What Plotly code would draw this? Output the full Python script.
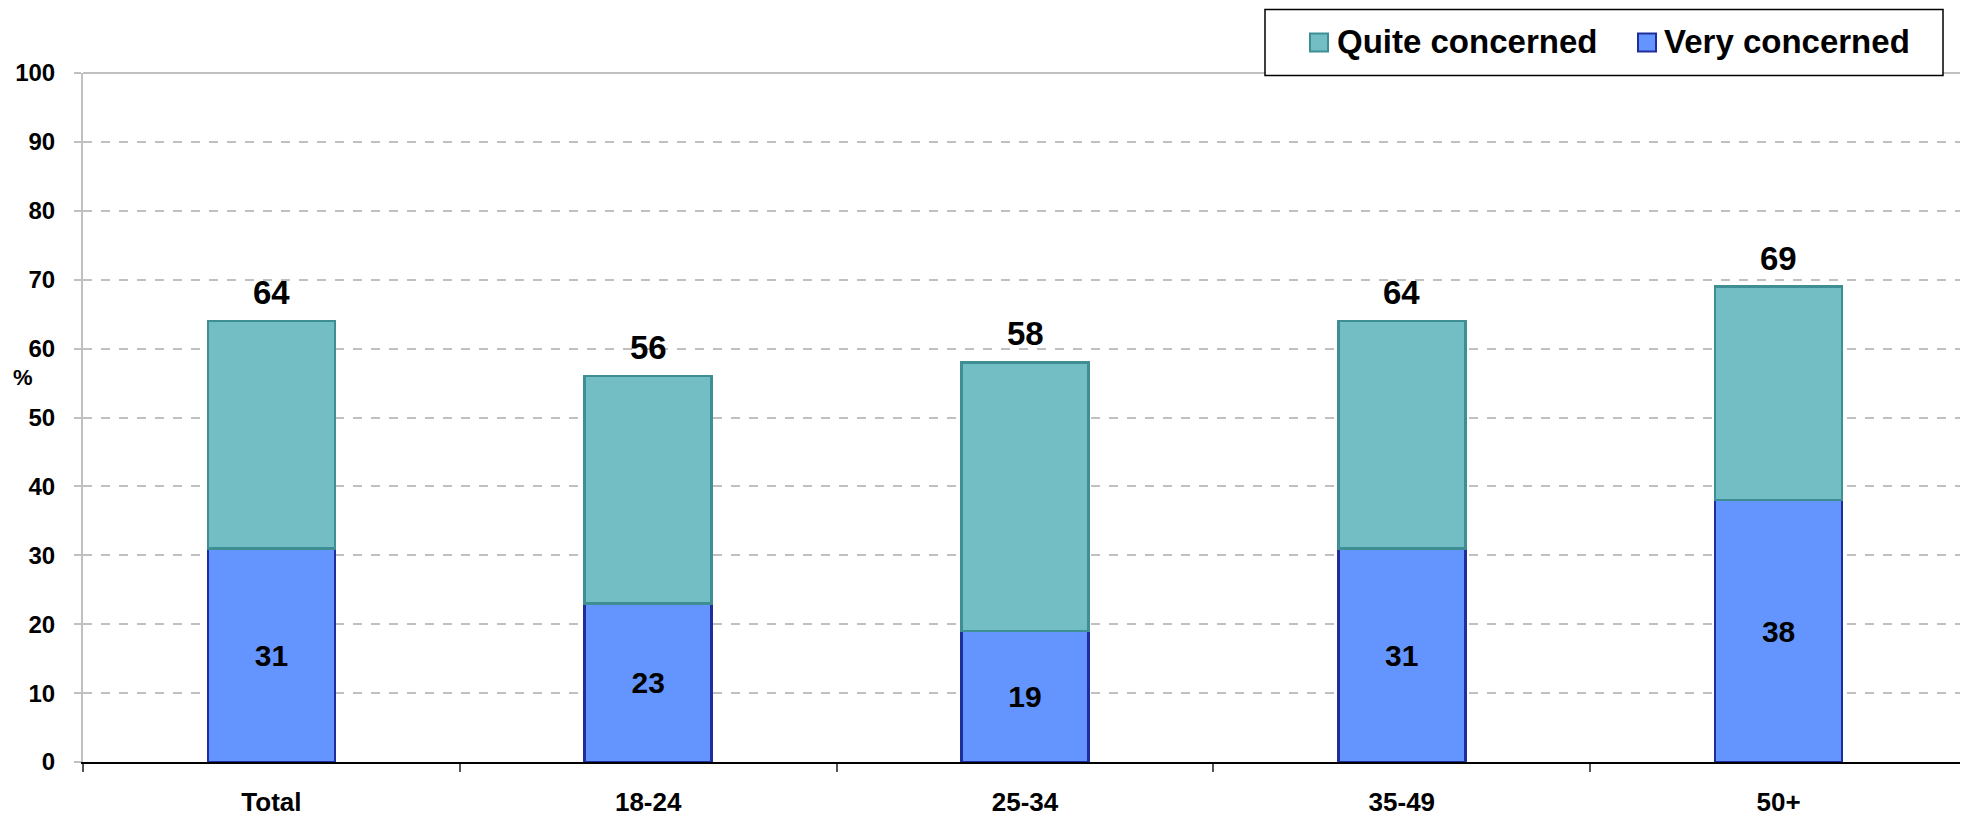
import plotly.graph_objects as go

categories = ["Total", "18-24", "25-34", "35-49", "50+"]
very_concerned = [31, 23, 19, 31, 38]
quite_concerned = [33, 33, 39, 33, 31]
totals = [64, 56, 58, 64, 69]
y_ticks = [0, 10, 20, 30, 40, 50, 60, 70, 80, 90, 100]

# the page body adds an 8px offset, so the figure is drawn 8px smaller
OFF = 8
W, H = 1968 - OFF, 816 - OFF
L, R, T, B = 83 - OFF, 1, 72.5 - OFF, 53.5
PW, PH = W - L - R, H - T - B


def px_x(px):  # page pixel -> paper
    return (px - OFF - L) / PW


def px_y(py):
    return (H - B - (py - OFF)) / PH


QUITE_FILL, QUITE_LINE = "#72BEC4", "#3E8F93"
VERY_FILL, VERY_LINE = "#6495FF", "#1F2E9B"
FONT = "Liberation Sans, Arial, sans-serif"

fig = go.Figure()
fig.add_trace(go.Bar(
    x=categories, y=very_concerned, name="Very concerned",
    marker=dict(color=VERY_FILL, line=dict(color=VERY_LINE, width=2.5)),
    text=[str(v) for v in very_concerned], textposition="inside",
    insidetextanchor="middle",
    textfont=dict(family=FONT, size=30, color="black", weight="bold"),
    showlegend=False,
))
fig.add_trace(go.Bar(
    x=categories, y=quite_concerned, name="Quite concerned",
    marker=dict(color=QUITE_FILL, line=dict(color=QUITE_LINE, width=2.5)),
    showlegend=False,
))

# total labels above the stacks
for c, t in zip(categories, totals):
    fig.add_annotation(x=c, y=t, text=f"<b>{t}</b>", showarrow=False,
                       yanchor="bottom", yshift=8,
                       font=dict(family=FONT, size=33, color="black"))

# "%" axis label
fig.add_annotation(xref="paper", yref="paper", x=px_x(23), y=px_y(377),
                   text="<b>%</b>", showarrow=False, xanchor="center",
                   yanchor="middle", font=dict(family=FONT, size=22, color="black"))

# top plot border
fig.add_shape(type="line", xref="paper", yref="paper", x0=0, x1=1, y0=1, y1=1,
              line=dict(color="#C0C0C0", width=2), layer="below")

# manual legend
fig.add_shape(type="rect", xref="paper", yref="paper",
              x0=px_x(1265), x1=px_x(1943), y0=px_y(75), y1=px_y(9),
              line=dict(color="black", width=1.5), fillcolor="white", layer="above")
legend_items = [("Quite concerned", QUITE_FILL, QUITE_LINE, 1310, 1335),
                ("Very concerned", VERY_FILL, VERY_LINE, 1638, 1662)]
for name, fill, line, mx, tx in legend_items:
    fig.add_shape(type="rect", xref="paper", yref="paper",
                  x0=px_x(mx), x1=px_x(mx + 18), y0=px_y(51), y1=px_y(33),
                  line=dict(color=line, width=2), fillcolor=fill, layer="above")
    fig.add_annotation(xref="paper", yref="paper", x=px_x(tx), y=px_y(41),
                       text=f"<b>{name}</b>", showarrow=False, xanchor="left",
                       yanchor="middle",
                       font=dict(family=FONT, size=33, color="black"))

fig.update_layout(
    width=W, height=H, barmode="stack", bargap=0.663,
    margin=dict(l=L, r=R, t=T, b=B, pad=0, autoexpand=False),
    plot_bgcolor="white", paper_bgcolor="white",
    font=dict(family=FONT, color="black"),
)
fig.update_xaxes(
    type="category", tickson="boundaries", ticks="outside", ticklen=8,
    tickcolor="#555555", tickwidth=1.5, showline=True, linecolor="black",
    linewidth=1.5, showgrid=False, ticklabelstandoff=16, automargin=False,
    tickfont=dict(family=FONT, size=26, color="black", weight="bold"),
)
fig.update_yaxes(
    range=[0, 100], tickvals=y_ticks, ticks="outside", ticklen=7,
    tickcolor="#C0C0C0", tickwidth=1.5, showline=True, linecolor="#C0C0C0",
    linewidth=2, mirror=True, showgrid=True, gridcolor="#C0C0C0", gridwidth=1.5,
    griddash="dash", zeroline=False, ticklabelstandoff=14, automargin=False,
    tickfont=dict(family=FONT, size=24, color="black", weight="bold"),
)

fig.write_html("out.html")
